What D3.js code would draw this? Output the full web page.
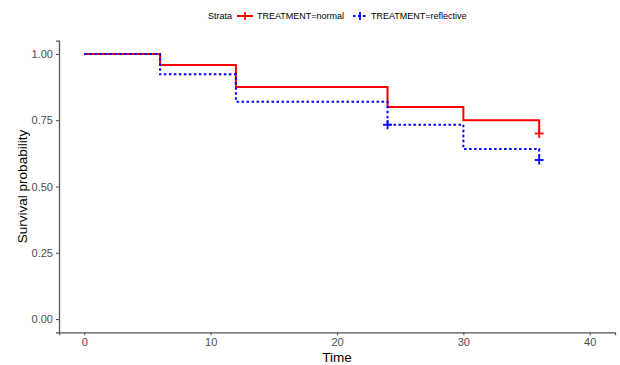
<!DOCTYPE html>
<html>
<head>
<meta charset="utf-8">
<script src="https://cdn.jsdelivr.net/npm/d3@7"></script>
<style>
  html, body { margin: 0; padding: 0; background: #fff; }
  svg { display: block; font-family: "Liberation Sans", Arial, sans-serif; }
</style>
</head>
<body>
<svg id="chart" width="620" height="365"></svg>
<script>
// ---- data ----
const strata = ["TREATMENT=normal", "TREATMENT=reflective"];
const normalTimes = [0, 6, 12, 24, 30, 36];
const normalSurv = [1.0, 0.958, 0.875, 0.80, 0.75, 0.70];
const normalCensor = [36];
const reflectiveTimes = [0, 6, 12, 24, 30, 36];
const reflectiveSurv = [1.0, 0.923, 0.82, 0.733, 0.641, 0.60];
const reflectiveCensor = [24, 36];
const xTicks = [0, 10, 20, 30, 40];
const yTicks = [0, 0.25, 0.5, 0.75, 1.0];
const colors = ["#FF0000", "#0000FF"];

(function () {
const svg = d3.select("#chart");
const mLeft = 59, mRight = 615, mTop = 40.7, mBottom = 332.3;

const x = d3.scaleLinear().domain([-2, 42]).range([mLeft, mRight]);
const y = d3.scaleLinear().domain([-0.05, 1.05]).range([mBottom, mTop]);

// axes
const xAxis = svg.append("g").attr("transform", `translate(0,${mBottom})`)
  .call(d3.axisBottom(x).tickValues(xTicks).tickSize(3).tickPadding(3).tickFormat(d3.format("d")));
const yAxis = svg.append("g").attr("transform", `translate(${mLeft},0)`)
  .call(d3.axisLeft(y).tickValues(yTicks).tickSize(3).tickPadding(3).tickFormat(d3.format(".2f")));
[xAxis, yAxis].forEach(g => {
  g.select(".domain").attr("stroke", "#555").attr("stroke-width", 1.3);
  g.selectAll(".tick line").attr("stroke", "#555").attr("stroke-width", 1.1);
  g.selectAll(".tick text").attr("fill", "#4D4D4D").attr("font-size", 11)
    .style("font-family", "'Liberation Sans', Arial, sans-serif");
});

// axis titles
svg.append("text").attr("x", (mLeft + mRight) / 2).attr("y", 362)
  .attr("text-anchor", "middle").attr("font-size", 13.5).attr("fill", "#000").text("Time");
svg.append("text").attr("transform", `translate(27,${(mTop + mBottom) / 2}) rotate(-90)`)
  .attr("text-anchor", "middle").attr("font-size", 13.5).attr("fill", "#000").text("Survival probability");

// curves
const series = [
  { times: normalTimes, surv: normalSurv, censor: normalCensor, color: colors[0], dash: null },
  { times: reflectiveTimes, surv: reflectiveSurv, censor: reflectiveCensor, color: colors[1], dash: "2.5,2.5" }
];
const line = d3.line().x(d => x(d[0])).y(d => y(d[1])).curve(d3.curveStepAfter);

series.forEach(s => {
  const pts = s.times.map((t, i) => [t, s.surv[i]]);
  svg.append("path").datum(pts).attr("d", line)
    .attr("fill", "none").attr("stroke", s.color).attr("stroke-width", 2)
    .attr("stroke-dasharray", s.dash);
  s.censor.forEach(ct => {
    let idx = 0;
    s.times.forEach((t, i) => { if (t <= ct) idx = i; });
    const cx = x(ct), cy = y(s.surv[idx]);
    const g = svg.append("g").attr("stroke", s.color).attr("stroke-width", 1.8);
    g.append("line").attr("x1", cx - 4.5).attr("x2", cx + 4.5).attr("y1", cy).attr("y2", cy);
    g.append("line").attr("x1", cx).attr("x2", cx).attr("y1", cy - 4.5).attr("y2", cy + 4.5);
  });
});

// legend
const ly = 16;
svg.append("text").attr("x", 208).attr("y", ly + 3.3).attr("font-size", 9).attr("fill", "#000").text("Strata");
const legItems = [
  { x0: 237, x1: 253, tx: 257, color: colors[0], dash: null, label: strata[0] },
  { x0: 353, x1: 367, tx: 371, color: colors[1], dash: "2.5,2.5", label: strata[1] }
];
legItems.forEach(it => {
  svg.append("line").attr("x1", it.x0).attr("x2", it.x1).attr("y1", ly).attr("y2", ly)
    .attr("stroke", it.color).attr("stroke-width", 2).attr("stroke-dasharray", it.dash);
  const cx = (it.x0 + it.x1) / 2;
  svg.append("line").attr("x1", cx).attr("x2", cx).attr("y1", ly - 4).attr("y2", ly + 4)
    .attr("stroke", it.color).attr("stroke-width", 1.8);
  svg.append("text").attr("x", it.tx).attr("y", ly + 3.3).attr("font-size", 9).attr("fill", "#000").text(it.label);
});
})();
</script>
</body>
</html>
